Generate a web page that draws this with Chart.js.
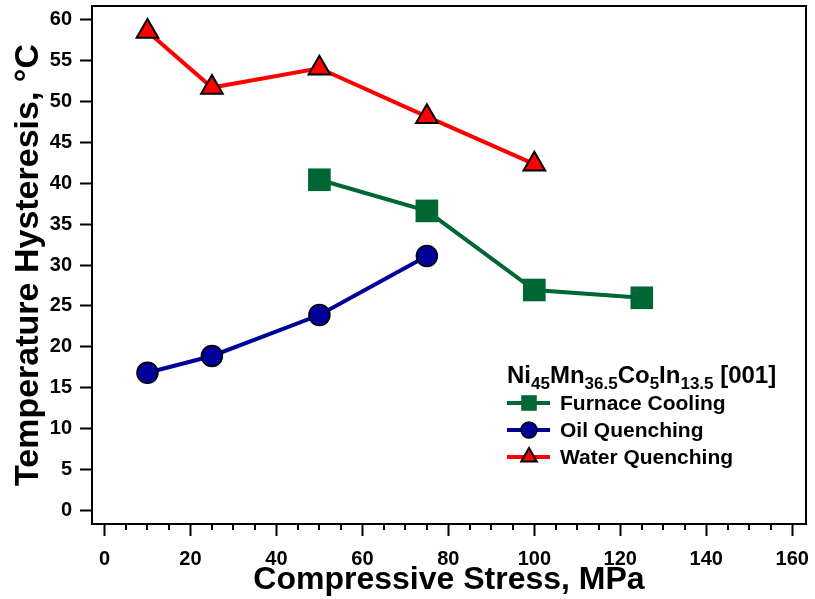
<!DOCTYPE html>
<html>
<head>
<meta charset="utf-8">
<script src="https://cdn.jsdelivr.net/npm/chart.js@4/dist/chart.umd.min.js"></script>
<style>
  html, body { margin: 0; padding: 0; background: #fff; }
  #wrap { width: 815px; height: 599px; }
</style>
</head>
<body>
<div id="wrap"><canvas id="chart" width="815" height="599"></canvas></div>
<script>
// Data
const furnaceStress = [50, 75, 100, 125];
const furnaceHyst   = [40.4, 36.6, 26.95, 26.0];
const oilStress     = [10, 25, 50, 75];
const oilHyst       = [16.85, 18.9, 23.9, 31.1];
const waterStress   = [10, 25, 50, 75, 100];
const waterHyst     = [58.5, 51.65, 54.0, 48.1, 42.3];

const xTickValues = [0, 20, 40, 60, 80, 100, 120, 140, 160];
const xMinorStep = 5;
const yTickValues = [0, 5, 10, 15, 20, 25, 30, 35, 40, 45, 50, 55, 60];

const legendLabels = ['Furnace Cooling', 'Oil Quenching', 'Water Quenching'];
// title pieces: [text, isSubscript]
const legendTitle = [['Ni', false], ['45', true], ['Mn', false], ['36.5', true],
                     ['Co', false], ['5', true], ['In', false], ['13.5', true], [' [001]', false]];

const FONT = "'Liberation Sans', Arial, sans-serif";
const GREEN = '#006633';
const BLUE = '#000099';
const RED = '#ff0000';

const toXY = (xs, ys) => xs.map((x, i) => ({ x, y: ys[i] }));

// keep the plot box where the original had it
function noEdgePadding(s) {
    s.paddingTop = 0;
    s.paddingBottom = 0;
    s.paddingLeft = 0;
    s.paddingRight = 0;
}

// frame, minor ticks and the in-plot legend
const framePlugin = {
    id: 'frame',
    afterDraw(chart) {
        const { ctx, chartArea: a, scales } = chart;
        ctx.save();
        ctx.strokeStyle = '#000';
        ctx.lineWidth = 2;
        ctx.strokeRect(a.left, a.top, a.right - a.left, a.bottom - a.top);

        // minor x ticks
        ctx.beginPath();
        for (let v = xTickValues[0]; v <= xTickValues[xTickValues.length - 1]; v += xMinorStep) {
            if (xTickValues.includes(v)) continue;
            const px = Math.round(scales.x.getPixelForValue(v));
            ctx.moveTo(px, a.bottom);
            ctx.lineTo(px, a.bottom + 6);
        }
        ctx.stroke();

        // legend title with subscripts
        let tx = 507;
        const ty = 383;
        ctx.fillStyle = '#000';
        ctx.textBaseline = 'alphabetic';
        legendTitle.forEach(([txt, sub]) => {
            ctx.font = sub ? `bold 17px ${FONT}` : `bold 24px ${FONT}`;
            ctx.fillText(txt, tx, sub ? ty + 6 : ty);
            tx += ctx.measureText(txt).width;
        });

        // legend rows
        const rowsY = [403, 430, 457];
        chart.data.datasets.forEach((ds, i) => {
            const y = rowsY[i];
            ctx.strokeStyle = ds.borderColor;
            ctx.lineWidth = 4;
            ctx.beginPath();
            ctx.moveTo(507, y);
            ctx.lineTo(550, y);
            ctx.stroke();
            const style = {
                pointStyle: ds.pointStyle,
                radius: ds.legendRadius,
                rotation: 0,
                borderWidth: ds.pointBorderWidth
            };
            ctx.fillStyle = ds.pointBackgroundColor;
            ctx.strokeStyle = ds.pointBorderColor;
            ctx.lineWidth = ds.pointBorderWidth;
            Chart.helpers.drawPoint(ctx, style, 529, y);
            ctx.fillStyle = '#000';
            ctx.font = `bold 21px ${FONT}`;
            ctx.textBaseline = 'middle';
            ctx.fillText(legendLabels[i], 560, y + 1);
        });
        ctx.restore();
    }
};

new Chart(document.getElementById('chart'), {
    type: 'line',
    data: {
        datasets: [
            {
                label: legendLabels[0],
                data: toXY(furnaceStress, furnaceHyst),
                borderColor: GREEN,
                borderWidth: 4,
                pointStyle: 'rect',
                pointRadius: 16,
                legendRadius: 11,
                pointBackgroundColor: GREEN,
                pointBorderColor: GREEN,
                pointBorderWidth: 0,
                order: 3
            },
            {
                label: legendLabels[1],
                data: toXY(oilStress, oilHyst),
                borderColor: BLUE,
                borderWidth: 4,
                pointStyle: 'circle',
                pointRadius: 10.5,
                legendRadius: 8,
                pointBackgroundColor: BLUE,
                pointBorderColor: '#000',
                pointBorderWidth: 1.5,
                order: 2
            },
            {
                label: legendLabels[2],
                data: toXY(waterStress, waterHyst),
                borderColor: RED,
                borderWidth: 4,
                pointStyle: 'triangle',
                pointRadius: 12.5,
                legendRadius: 9,
                pointBackgroundColor: RED,
                pointBorderColor: '#000',
                pointBorderWidth: 2,
                order: 1
            }
        ]
    },
    options: {
        responsive: false,
        animation: false,
        events: [],
        layout: {
            autoPadding: false,
            padding: { top: 6, right: 9, left: 0, bottom: 0 }
        },
        plugins: {
            legend: { display: false },
            tooltip: { enabled: false }
        },
        elements: {
            line: { tension: 0 },
            point: { hoverRadius: 0 }
        },
        scales: {
            x: {
                type: 'linear',
                min: -2.9,
                max: 163.2,
                afterBuildTicks: (s) => { s.ticks = xTickValues.map(v => ({ value: v })); },
                afterFit: (s) => { s.height = 75; noEdgePadding(s); },
                border: { display: false },
                grid: {
                    drawOnChartArea: false,
                    drawTicks: true,
                    tickLength: 12,
                    tickWidth: 2,
                    tickColor: '#000'
                },
                ticks: {
                    color: '#000',
                    padding: 11,
                    maxRotation: 0,
                    font: { family: FONT, size: 20, weight: 'bold' }
                },
                title: {
                    display: true,
                    text: 'Compressive Stress, MPa',
                    color: '#000',
                    padding: { top: 0, bottom: 0 },
                    font: { family: FONT, size: 32, weight: 'bold' }
                }
            },
            y: {
                type: 'linear',
                min: -1.6,
                max: 61.6,
                afterBuildTicks: (s) => { s.ticks = yTickValues.map(v => ({ value: v })); },
                afterFit: (s) => { s.width = 92; noEdgePadding(s); },
                border: { display: false },
                grid: {
                    drawOnChartArea: false,
                    drawTicks: true,
                    tickLength: 12,
                    tickWidth: 2,
                    tickColor: '#000'
                },
                ticks: {
                    color: '#000',
                    padding: 8,
                    font: { family: FONT, size: 20, weight: 'bold' }
                },
                title: {
                    display: true,
                    text: 'Temperature Hysteresis, °C',
                    color: '#000',
                    padding: { top: 8, bottom: 0 },
                    font: { family: FONT, size: 34, weight: 'bold' }
                }
            }
        }
    },
    plugins: [framePlugin]
});
</script>
</body>
</html>
